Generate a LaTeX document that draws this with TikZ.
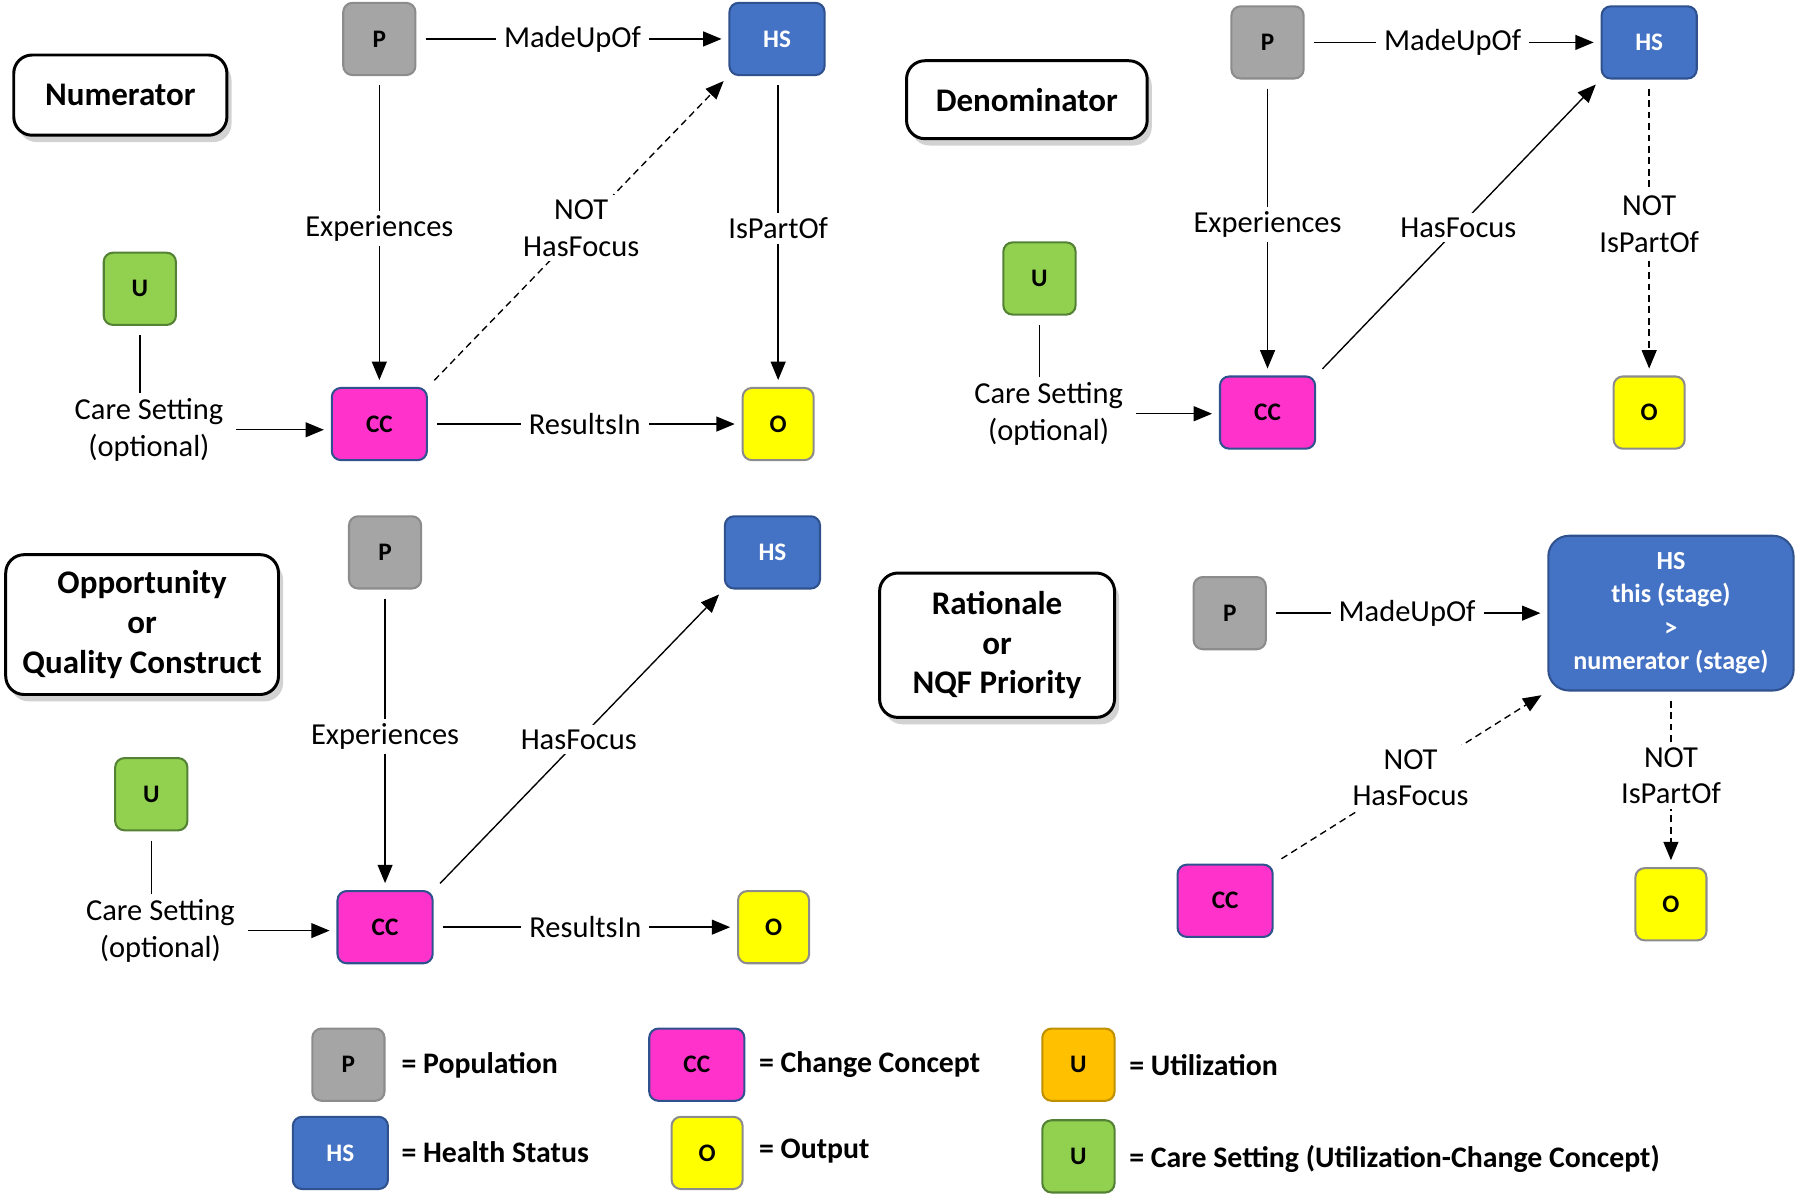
\documentclass[tikz,border=0pt]{standalone}
\usepackage{fontspec}
\setmainfont{Carlito}
\usetikzlibrary{arrows.meta,shadows}
\definecolor{pgray}{HTML}{A5A5A5}
\definecolor{pgrayd}{HTML}{8C8C8C}
\definecolor{hsblue}{HTML}{4472C4}
\definecolor{hsblued}{HTML}{2F528F}
\definecolor{ccpink}{HTML}{FF33CC}
\definecolor{oyellow}{HTML}{FFFF00}
\definecolor{ugreen}{HTML}{92D050}
\definecolor{ugreend}{HTML}{548235}
\definecolor{uorange}{HTML}{FFC000}
\definecolor{uoranged}{HTML}{BF9000}
\begin{document}
\begin{tikzpicture}[x=0.5pt,y=-0.5pt,
 box/.style={draw, rounded corners=4pt, line width=0.9pt, minimum height=31.5pt, inner sep=0pt, align=center, font=\fontsize{11}{14.5}\selectfont\bfseries},
 pnode/.style={box, fill=pgray, draw=pgrayd, minimum width=31.5pt},
 hsnode/.style={box, fill=hsblue, draw=hsblued, text=white, minimum width=41.5pt},
 ccnode/.style={box, fill=ccpink, draw=hsblued, minimum width=41.5pt},
 onode/.style={box, fill=oyellow, draw=pgrayd, minimum width=31pt},
 unode/.style={box, fill=ugreen, draw=ugreend, minimum width=31.5pt},
 uonode/.style={box, fill=uorange, draw=uoranged, minimum width=31.5pt},
 head/.style={draw, rounded corners=8pt, line width=1.3pt, fill=white, align=center, inner sep=0pt,
   font=\fontsize{14.4}{17.3}\selectfont\bfseries,
   drop shadow={shadow xshift=2pt, shadow yshift=-3pt, fill=black!35}},
 lab/.style={fill=white, inner xsep=3.5pt, inner ysep=2pt, align=center, font=\fontsize{13.3}{16}\selectfont},
 rel/.style={line width=0.6pt, -{Triangle[length=8pt,width=6.5pt]}, shorten >=3pt, shorten <=4pt},
 nrel/.style={rel, dash pattern=on 3pt off 2pt},
 plain/.style={line width=0.6pt, shorten <=4pt},
 leg/.style={anchor=west, inner sep=0pt, font=\fontsize{13}{15}\selectfont\bfseries},
]
\useasboundingbox (0,0) rectangle (1568,1043);

% ---------- Panel 1: Numerator ----------
\node[head, minimum width=93pt, minimum height=35pt] (h1) at (105,83) {Numerator};
\node[pnode] (p1) at (331,34) {P};
\node[hsnode] (hs1) at (678,34) {HS};
\node[unode] (u1) at (122,252) {U};
\node[ccnode] (cc1) at (331,370) {CC};
\node[onode] (o1) at (679,370) {O};
\node[lab] (cs1) at (130,375) {Care Setting\\(optional)};
\draw[rel] (p1) -- node[lab] {MadeUpOf} (hs1);
\draw[rel] (p1) -- node[lab, pos=0.49] {Experiences} (cc1);
\draw[rel] (hs1.south -| o1) -- node[lab, pos=0.49] {IsPartOf} (o1);
\draw[rel] (cc1) -- node[lab] {ResultsIn} (o1);
\draw[nrel] (cc1.north east) -- node[lab, pos=0.51] {NOT\\HasFocus} (hs1.south west);
\draw[plain] (u1.south) -- (u1.south |- cs1.north);
\draw[rel, shorten <=2pt] (cs1.east) -- (cs1.east -| cc1.west);

% ---------- Panel 2: Denominator ----------
\node[head, minimum width=105pt, minimum height=34pt] (h2) at (896,87) {Denominator};
\node[pnode] (p2) at (1106,37) {P};
\node[hsnode] (hs2) at (1439,37) {HS};
\node[unode] (u2) at (907,243) {U};
\node[ccnode] (cc2) at (1106,360) {CC};
\node[onode] (o2) at (1439,360) {O};
\node[lab] (cs2) at (915,361) {Care Setting\\(optional)};
\draw[rel] (p2) -- node[lab] {MadeUpOf} (hs2);
\draw[rel] (p2) -- node[lab, pos=0.49] {Experiences} (cc2);
\draw[rel] (cc2.north east) -- node[lab, pos=0.5] {HasFocus} (hs2.south west);
\draw[nrel] (hs2) -- node[lab, pos=0.49] {NOT\\IsPartOf} (o2);
\draw[plain] (u2.south) -- (u2.south |- cs2.north);
\draw[rel, shorten <=2pt] (cs2.east) -- (cs2.east -| cc2.west);

% ---------- Panel 3: Opportunity ----------
\node[head, minimum width=119pt, minimum height=61pt] (h3) at (124,545) {Opportunity\\or\\Quality Construct};
\node[pnode] (p3) at (336,482) {P};
\node[hsnode] (hs3) at (674,482) {HS};
\node[unode] (u3) at (132,693) {U};
\node[ccnode] (cc3) at (336,809) {CC};
\node[onode] (o3) at (675,809) {O};
\node[lab] (cs3) at (140,812) {Care Setting\\(optional)};
\draw[rel] (p3) -- node[lab, pos=0.49] {Experiences} (cc3);
\draw[rel] (cc3.north east) -- node[lab, pos=0.5] {HasFocus} (hs3.south west);
\draw[rel] (cc3) -- node[lab] {ResultsIn} (o3);
\draw[plain] (u3.south) -- (u3.south |- cs3.north);
\draw[rel, shorten <=2pt] (cs3.east) -- (cs3.east -| cc3.west);

% ---------- Panel 4: Rationale ----------
\node[head, minimum width=102.5pt, minimum height=63pt] (h4) at (870,563) {Rationale\\or\\NQF Priority};
\node[pnode] (p4) at (1073,535) {P};
\node[hsnode, rounded corners=9pt, minimum width=107pt, minimum height=67.5pt,
      font=\fontsize{11.4}{14.5}\selectfont\bfseries] (hs4) at (1458,535) {HS\\this (stage)\\>\\numerator (stage)};
\node[ccnode] (cc4) at (1069,786) {CC};
\node[onode] (o4) at (1458,789) {O};
\draw[rel] (p4) -- node[lab] {MadeUpOf} (hs4);
\draw[nrel] (cc4.north east) -- node[lab, pos=0.5] {NOT\\HasFocus} (hs4.south west);
\draw[nrel] (hs4) -- node[lab, pos=0.48] {NOT\\IsPartOf} (o4);

% ---------- Legend ----------
\node[pnode] (lp) at (304,929) {P};
\node[leg] (tp) at (350,930) {= Population};
\node[ccnode] (lcc) at (608,929) {CC};
\node[leg] (tcc) at (662,929) {= Change Concept};
\node[uonode] (luo) at (941,929) {U};
\node[leg] (tuo) at (985,929) {= Utilization};
\node[hsnode] (lhs) at (297,1006) {HS};
\node[leg] (ths) at (350,1005) {= Health Status};
\node[onode] (lo) at (617,1006) {O};
\node[leg] (to) at (662,1004) {= Output};
\node[unode] (lug) at (941,1009) {U};
\node[leg] (tug) at (985,1011) {= Care Setting (Utilization-Change Concept)};
\end{tikzpicture}
\end{document}
